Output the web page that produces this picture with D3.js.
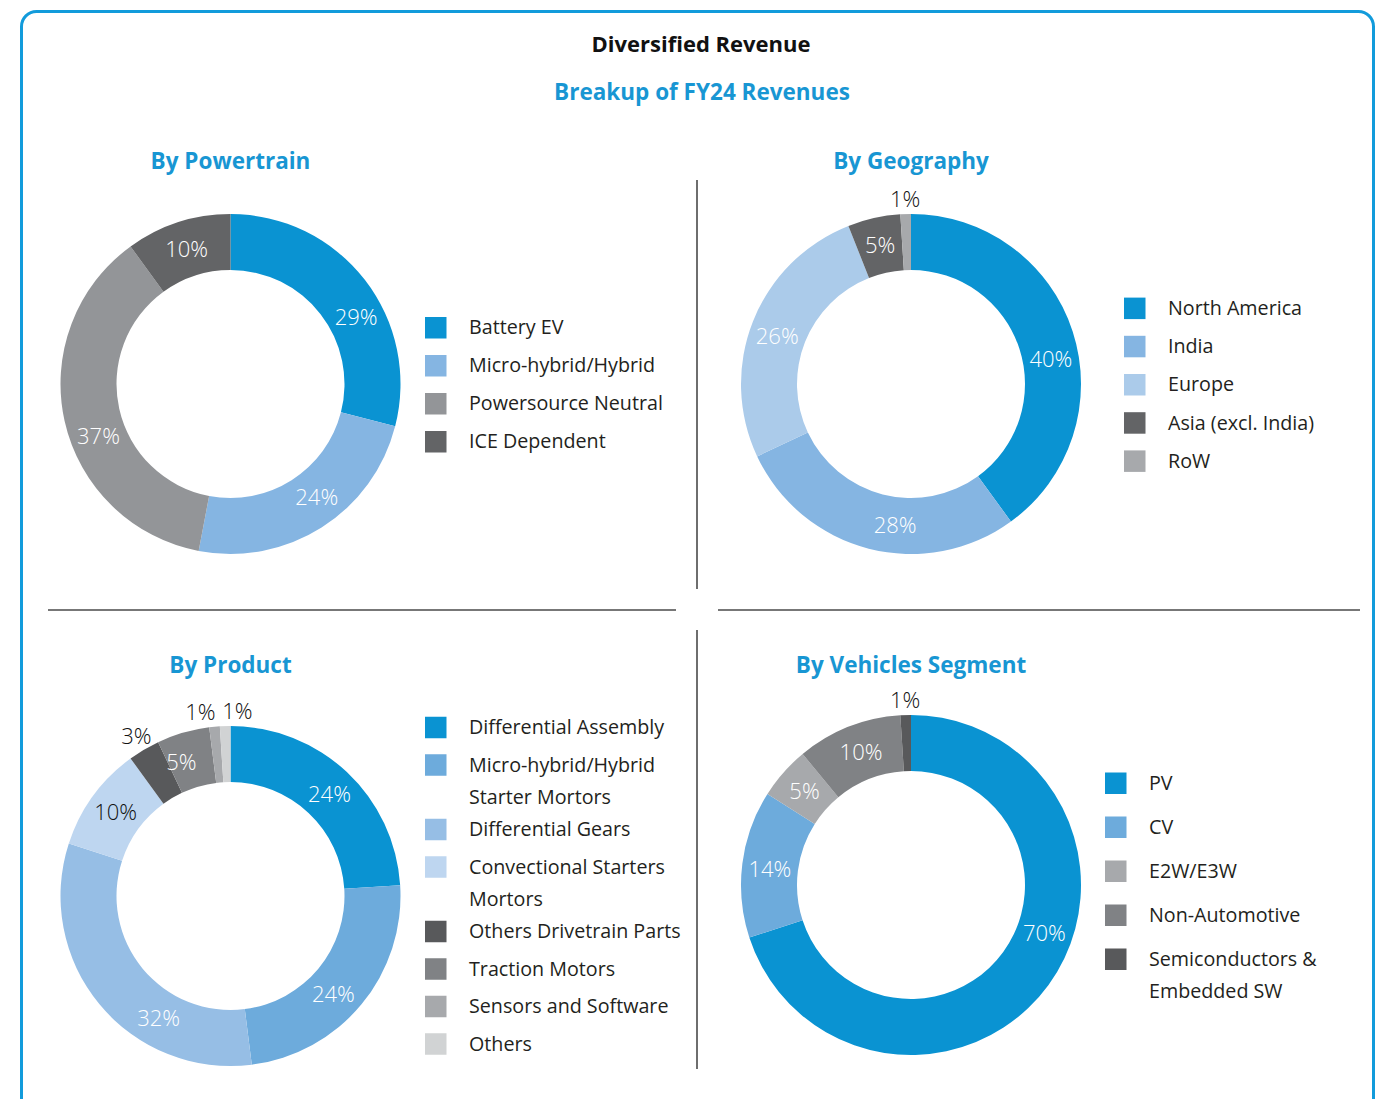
<!DOCTYPE html>
<html>
<head>
<meta charset="utf-8">
<script src="https://cdn.jsdelivr.net/npm/d3@7"></script>
<style>
  html, body { margin: 0; padding: 0; background: #ffffff; }
  svg { display: block; }
  text { font-family: "Open Sans", "Noto Sans", sans-serif; }
</style>
</head>
<body>
<script>
// ---------- DATA ----------
const powertrainCategories = ["Battery EV", "Micro-hybrid/Hybrid", "Powersource Neutral", "ICE Dependent"];
const powertrainValues = [29, 24, 37, 10];

const geographyCategories = ["North America", "India", "Europe", "Asia (excl. India)", "RoW"];
const geographyValues = [40, 28, 26, 5, 1];

const productCategories = ["Differential Assembly", "Micro-hybrid/Hybrid Starter Mortors", "Differential Gears",
  "Convectional Starters Mortors", "Others Drivetrain Parts", "Traction Motors", "Sensors and Software", "Others"];
const productValues = [24, 24, 32, 10, 3, 5, 1, 1];

const vehicleCategories = ["PV", "CV", "E2W/E3W", "Non-Automotive", "Semiconductors & Embedded SW"];
const vehicleValues = [70, 14, 5, 10, 1];

// ---------- STYLE / LAYOUT ----------
const W = 1379, H = 1099;
const BLUE = "#1896d3";
// labelNudge: angular offsets (degrees) applied to the percentage labels for readability
const panels = [
  { title: "By Powertrain", cats: powertrainCategories, vals: powertrainValues,
    colors: ["#0a93d2", "#85b5e2", "#939598", "#636466"], labelNudge: [10, -5, -9, 0],
    cx: 230.5, cy: 384, titleY: 161, legX: 425, legCy: 384.5, step: 38, wrapStep: 27, lineH: 32, maxW: 230 },
  { title: "By Geography", cats: geographyCategories, vals: geographyValues,
    colors: ["#0a93d2", "#85b5e2", "#abcbea", "#636466", "#a7a9ac"], labelNudge: [8, -8, -2, 0, 0],
    cx: 911, cy: 384, titleY: 161, legX: 1124, legCy: 384.5, step: 38.2, wrapStep: 27, lineH: 32, maxW: 230 },
  { title: "By Product", cats: productCategories, vals: productValues,
    colors: ["#0a93d2", "#6dabdc", "#96bee5", "#bed6f0", "#58595b", "#808285", "#a7a9ac", "#d1d3d4"],
    labelNudge: [1, 4, -20, 0, 0, -4, 0, 0],
    cx: 230.5, cy: 896, titleY: 665, legX: 425, legCy: 885.5, step: 37.5, wrapStep: 27, lineH: 32, maxW: 225 },
  { title: "By Vehicles Segment", cats: vehicleCategories, vals: vehicleValues,
    colors: ["#0a93d2", "#6dabdc", "#a7a9ac", "#808285", "#58595b"], labelNudge: [-16, -1, 0, 1, 0],
    cx: 911, cy: 885, titleY: 665, legX: 1105, legCy: 887, step: 44, wrapStep: 32, lineH: 32, maxW: 215 }
];

const R_OUT = 170, R_IN = 114, R_LAB = 142, R_OUTSIDE = 185;
const LEG_FS = 19.7;

const svg = d3.select("body").append("svg").attr("width", W).attr("height", H);

// frame
svg.append("rect").attr("x", 21.5).attr("y", 11.5).attr("width", 1352).attr("height", 1102)
  .attr("rx", 15).attr("fill", "none").attr("stroke", "#129bdb").attr("stroke-width", 3);

// titles
svg.append("text").attr("x", 701).attr("y", 52).attr("text-anchor", "middle")
  .attr("font-size", 22).attr("font-weight", 700).attr("fill", "#111").text("Diversified Revenue");
svg.append("text").attr("x", 702).attr("y", 100).attr("text-anchor", "middle")
  .attr("font-size", 22.5).attr("font-weight", 700).attr("fill", BLUE).text("Breakup of FY24 Revenues");

// separators
const sep = svg.append("g").attr("stroke", "#4a4a4a").attr("stroke-width", 1.6);
sep.append("line").attr("x1", 697).attr("x2", 697).attr("y1", 180).attr("y2", 589);
sep.append("line").attr("x1", 697).attr("x2", 697).attr("y1", 630).attr("y2", 1069);
sep.append("line").attr("x1", 48).attr("x2", 676).attr("y1", 610).attr("y2", 610);
sep.append("line").attr("x1", 718).attr("x2", 1360).attr("y1", 610).attr("y2", 610);

// text measure helper
const measurer = svg.append("text").attr("font-size", LEG_FS).attr("visibility", "hidden");
function textW(s) { measurer.text(s); return measurer.node().getComputedTextLength(); }
function wrap(s, maxW) {
  const words = s.split(" "); const lines = []; let cur = "";
  words.forEach(w => {
    const t = cur ? cur + " " + w : w;
    if (cur && textW(t) > maxW) { lines.push(cur); cur = w; } else cur = t;
  });
  if (cur) lines.push(cur);
  return lines;
}

const pie = d3.pie().sort(null).value(d => d.v);
const arc = d3.arc().innerRadius(R_IN).outerRadius(R_OUT);

panels.forEach(p => {
  const data = p.cats.map((c, i) => ({ c, v: p.vals[i], color: p.colors[i], nudge: p.labelNudge[i] }));
  const g = svg.append("g");

  g.append("text").attr("x", p.cx).attr("y", p.titleY + 8).attr("text-anchor", "middle")
    .attr("font-size", 22.5).attr("font-weight", 700).attr("fill", BLUE).text(p.title);

  const dg = g.append("g").attr("transform", `translate(${p.cx},${p.cy})`);
  const arcs = pie(data);
  dg.selectAll("path").data(arcs).join("path")
    .attr("d", arc).attr("fill", d => d.data.color);

  // labels
  const labels = arcs.map(a => {
    const mid = (a.startAngle + a.endAngle) / 2 + a.data.nudge * Math.PI / 180;
    const outside = a.data.v <= 3;
    const r = outside ? R_OUTSIDE : R_LAB;
    const lum = d3.hsl(a.data.color).l;
    return { txt: a.data.v + "%", x: Math.sin(mid) * r, y: -Math.cos(mid) * r, outside,
             dark: outside || lum > 0.82 };
  });
  // avoid overlap for outside labels
  const outs = labels.filter(l => l.outside).sort((a, b) => a.x - b.x);
  for (let iter = 0; iter < 20; iter++) {
    for (let i = 1; i < outs.length; i++) {
      const a = outs[i - 1], b = outs[i];
      if (Math.abs(a.y - b.y) < 22 && b.x - a.x < 37) {
        const push = (37 - (b.x - a.x)) / 2; a.x -= push; b.x += push;
      }
    }
  }
  dg.selectAll("text.pct").data(labels).join("text").attr("class", "pct")
    .attr("x", d => d.x).attr("y", d => d.y).attr("dy", "0.35em")
    .attr("text-anchor", "middle").attr("font-size", 22).attr("font-weight", 300)
    .attr("fill", d => d.dark ? "#111111" : "#ffffff").text(d => d.txt);

  // legend
  const items = data.map(d => ({ ...d, lines: wrap(d.c, p.maxW) }));
  let y = 0;
  items.forEach(it => { it.y = y; y += p.step + p.wrapStep * (it.lines.length - 1); });
  items.forEach(it => { it.lastY = it.y + p.lineH * (it.lines.length - 1); });
  const span = items[items.length - 1].lastY - items[0].y;
  const y0 = p.legCy - span / 2;
  const lg = g.append("g").attr("transform", `translate(${p.legX},${y0})`);
  items.forEach(it => {
    lg.append("rect").attr("x", 0).attr("y", it.y - 10.5).attr("width", 21.5).attr("height", 21.5).attr("fill", it.color);
    it.lines.forEach((ln, k) => {
      lg.append("text").attr("x", 44).attr("y", it.y + k * p.lineH).attr("dy", "0.35em")
        .attr("font-size", LEG_FS).attr("fill", "#231f20").text(ln);
    });
  });
});
measurer.remove();
</script>
</body>
</html>
